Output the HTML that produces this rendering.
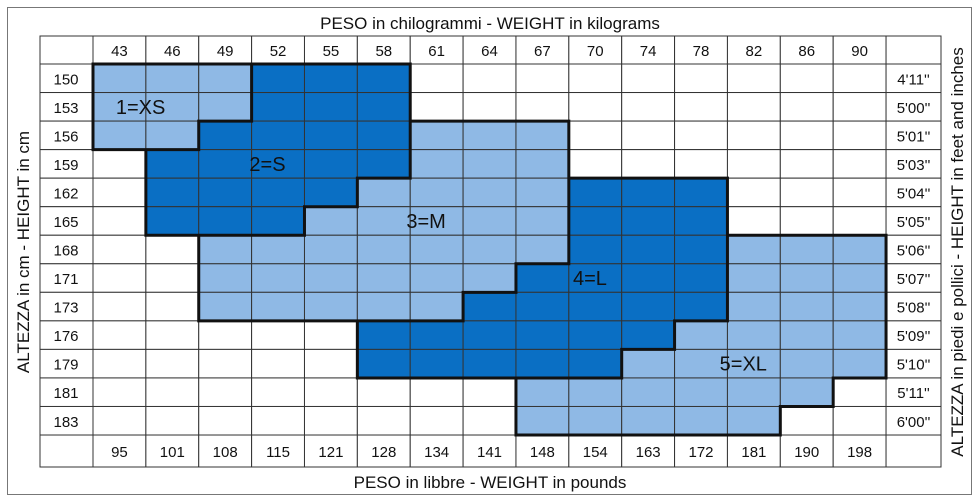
<!DOCTYPE html>
<html><head><meta charset="utf-8"><style>
body{margin:0;background:#fff;}
svg{display:block;font-family:"Liberation Sans",sans-serif;}
</style></head><body>
<svg id="c" width="979" height="502"></svg>
<script>
const weightsKg=[43,46,49,52,55,58,61,64,67,70,74,78,82,86,90];
const weightsLb=[95,101,108,115,121,128,134,141,148,154,163,172,181,190,198];
const heightsCm=[150,153,156,159,162,165,168,171,173,176,179,181,183];
const heightsFt=["4'11''","5'00''","5'01''","5'03''","5'04''","5'05''","5'06''","5'07''","5'08''","5'09''","5'10''","5'11''","6'00''"];
// size index per cell (0 = none, 1 XS,2 S,3 M,4 L,5 XL)
const sizeRows=[
"111222000000000",
"111222000000000",
"112222333000000",
"022222333000000",
"022223333444000",
"022233333444000",
"003333333444555",
"003333334444555",
"003333344444555",
"000002222222222".replace(/2/g,'x'),
"",
"",
""];
sizeRows[9]="000004444445555";
sizeRows[10]="000004444455555";
sizeRows[11]="000000005555550";
sizeRows[12]="000000005555500";
const sizeLabels=["1=XS","2=S","3=M","4=L","5=XL"];
const labelCol=[0.9,3.3,6.3,9.4,12.3];
const labelRow=[1,3,5,7,10];

const NS="http://www.w3.org/2000/svg";
const svg=document.getElementById('c');
function mk(t,a,p){const e=document.createElementNS(NS,t);for(const k in a)e.setAttribute(k,a[k]);(p||svg).appendChild(e);return e;}
const X0=93,CW=52.87,Y0=64,RH=28.54,LX=40,RX=941,TY=36,BY=467;
const xs=i=>X0+i*CW, ys=j=>Y0+j*RH;
const XE=xs(15), YE=ys(13);
const fills=["#ffffff","#8fb9e5","#0a6fc4","#8fb9e5","#0a6fc4","#8fb9e5"];

let r=mk('rect',{x:7.5,y:7.5,width:964,height:487,fill:'none',stroke:'#777','stroke-width':1});



for(let j=0;j<heightsCm.length;j++)for(let i=0;i<weightsKg.length;i++){
  const s=+sizeRows[j][i];
  const c=mk('rect',{x:xs(i),y:ys(j),width:CW,height:RH,fill:fills[s],stroke:'#333','stroke-width':1});
  
  
}
// header/footer/label cells
for(let i=0;i<weightsKg.length;i++){
  let h=mk('rect',{x:xs(i),y:TY,width:CW,height:Y0-TY,fill:'#fff',stroke:'#333'});
  
  
  let t=mk('text',{x:xs(i)+CW/2,y:56,'text-anchor':'middle','font-size':15,fill:'#111'});t.textContent=weightsKg[i];
  
  
  let f=mk('rect',{x:xs(i),y:YE,width:CW,height:BY-YE,fill:'#fff',stroke:'#333'});
  
  
  let u=mk('text',{x:xs(i)+CW/2,y:457,'text-anchor':'middle','font-size':15,fill:'#111'});u.textContent=weightsLb[i];
  
  
}
for(let j=0;j<heightsCm.length;j++){
  let a=mk('rect',{x:LX,y:ys(j),width:X0-LX,height:RH,fill:'#fff',stroke:'#333'});
  
  
  let t=mk('text',{x:66,y:ys(j)+RH/2+6,'text-anchor':'middle','font-size':15,fill:'#111'});t.textContent=heightsCm[j];
  
  
  let b=mk('rect',{x:XE,y:ys(j),width:RX-XE,height:RH,fill:'#fff',stroke:'#333'});
  
  
  let u=mk('text',{x:(XE+RX)/2,y:ys(j)+RH/2+6,'text-anchor':'middle','font-size':15,fill:'#111'});u.textContent=heightsFt[j];
  
  
}
[[LX,TY,X0-LX,Y0-TY],[XE,TY,RX-XE,Y0-TY],[LX,YE,X0-LX,BY-YE],[XE,YE,RX-XE,BY-YE]].forEach(q=>{
  let e=mk('rect',{x:q[0],y:q[1],width:q[2],height:q[3],fill:'#fff',stroke:'#333'});
  
  
});
// thick region borders
const sz=(i,j)=>(i<0||j<0||i>=15||j>=13)?0:+sizeRows[j][i];
let d='';
for(let j=0;j<=13;j++)for(let i=0;i<15;i++){const a=sz(i,j-1),b=sz(i,j);if(a!==b)d+=`M${xs(i)-1.5},${ys(j)}H${xs(i+1)+1.5}`;}
for(let i=0;i<=15;i++)for(let j=0;j<13;j++){const a=sz(i-1,j),b=sz(i,j);if(a!==b)d+=`M${xs(i)},${ys(j)-1.5}V${ys(j+1)+1.5}`;}
let p=mk('path',{d:d,stroke:'#111','stroke-width':3,fill:'none'});


for(let k=0;k<sizeLabels.length;k++){
  let t=mk('text',{x:xs(labelCol[k]),y:ys(labelRow[k])+RH/2+7,'text-anchor':'middle','font-size':20,fill:'#111'});
  t.textContent=sizeLabels[k];
  
  
}
let t1=mk('text',{x:490,y:29,'text-anchor':'middle','font-size':17,fill:'#111'});t1.textContent='PESO in chilogrammi -  WEIGHT in kilograms';


let t2=mk('text',{x:490,y:488,'text-anchor':'middle','font-size':17,fill:'#111'});t2.textContent='PESO in libbre -  WEIGHT in pounds';


let t3=mk('text',{x:0,y:0,'text-anchor':'middle','font-size':17,fill:'#111',transform:'translate(29,252) rotate(-90)'});t3.textContent='ALTEZZA in cm  -  HEIGHT in cm';


let t4=mk('text',{x:0,y:0,'text-anchor':'middle','font-size':17,fill:'#111',transform:'translate(963,252) rotate(-90)'});t4.textContent='ALTEZZA in piedi e pollici - HEIGHT in feet and inches';


</script>
</body></html>
